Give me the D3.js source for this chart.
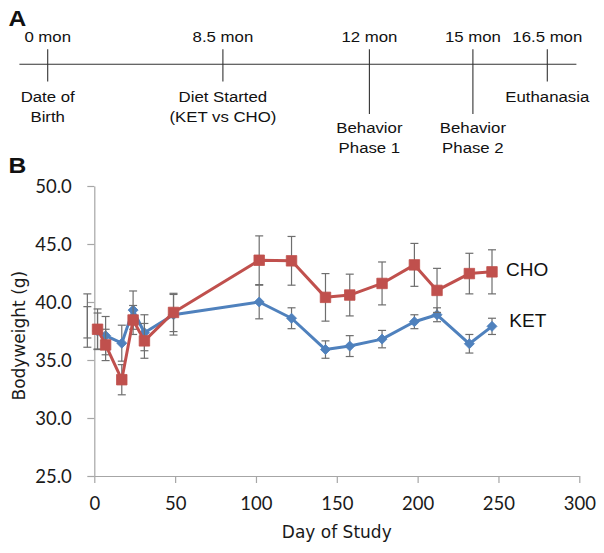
<!DOCTYPE html>
<html>
<head>
<meta charset="utf-8">
<script src="https://cdn.jsdelivr.net/npm/d3@7/dist/d3.min.js"></script>
<style>
  body { margin: 0; background: #fff; }
  svg { display: block; }
</style>
</head>
<body>
<svg width="604" height="553"></svg>
<script>

// ---- panel A: study timeline ----
var milestoneMonths = [0, 8.5, 12, 15, 16.5];
var milestoneTop = ["0 mon", "8.5 mon", "12 mon", "15 mon", "16.5 mon"];
var milestoneText = [["Date of", "Birth"], ["Diet Started", "(KET vs CHO)"],
                     ["Behavior", "Phase 1"], ["Behavior", "Phase 2"], ["Euthanasia"]];

// ---- panel B: bodyweight ----
var days = [2, 7, 17, 24, 31, 49, 102, 122, 143, 158, 178, 198, 212, 232, 246];
var ketMean = [37.5, 37.1, 36.45, 39.3, 37.35, 38.9, 40.0, 38.6, 35.9, 36.2, 36.8, 38.3, 38.9, 36.4, 37.9];
var ketErr  = [1.55, 1.65, 1.55, 1.65, 1.55, 1.75, 1.45, 0.9, 0.75, 0.9, 0.75, 0.6, 0.6, 0.8, 0.7];
var choMean = [37.65, 36.3, 33.3, 38.45, 36.65, 39.1, 43.6, 43.55, 40.4, 40.6, 41.6, 43.2, 41.0, 42.45, 42.6];
var choErr  = [1.75, 1.35, 1.3, 1.25, 1.5, 1.65, 2.1, 2.1, 2.05, 1.8, 1.85, 1.85, 1.9, 1.75, 1.9];
// baseline error bars sitting just left of day 0 (no visible markers)
var baseDay = -4.3;
var baseMean = [38.25, 38.4];
var baseErr = [1.35, 2.3];

var xTicks = [0, 50, 100, 150, 200, 250, 300];
var yTicks = [25, 30, 35, 40, 45, 50];

var red = "#c0504d", blue = "#4f81bd", axisGrey = "#a6a6a6", barGrey = "#6e6e6e";

var svg = d3.select("svg");

// text helper: Excel figure text is a little wide, stretch it horizontally
function stretchText(g, x, y, str, sx) {
  return g.append("text")
      .attr("transform", "translate(" + x + "," + y + ") scale(" + sx + ",1)")
      .text(str);
}

// ---------- A ----------
var gA = svg.append("g")
    .attr("font-family", "'Liberation Sans', Arial, sans-serif")
    .attr("fill", "#111");

stretchText(gA, 8.5, 26, "A", 1.12)
    .attr("font-size", 22).attr("font-weight", "bold");

var tx = d3.scaleLinear()
    .domain(milestoneMonths)
    .range([47.7, 222.9, 369.4, 472.9, 547.3]);

var lineY = 64.3;
gA.append("line")
    .attr("x1", 19.4).attr("x2", 576.4)
    .attr("y1", lineY).attr("y2", lineY)
    .attr("stroke", "#333").attr("stroke-width", 1.1);

// phases labelled further down get longer ticks
var lowRow = [false, false, true, true, false];

var ms = gA.selectAll("g.ms")
    .data(milestoneMonths)
    .enter().append("g")
      .attr("class", "ms");

ms.append("line")
    .attr("x1", function(d) { return tx(d); })
    .attr("x2", function(d) { return tx(d); })
    .attr("y1", 49.3)
    .attr("y2", function(d, i) { return lowRow[i] ? 114 : 81.5; })
    .attr("stroke", "#333").attr("stroke-width", 1.1);

ms.each(function(d, i) {
  var g = d3.select(this);
  stretchText(g, tx(d), 41.7, milestoneTop[i], 1.12)
      .attr("font-size", 15).attr("text-anchor", "middle");
  var base = lowRow[i] ? 132.5 : 101.7;
  milestoneText[i].forEach(function(s, k) {
    stretchText(g, tx(d), base + k * 20, s, 1.12)
        .attr("font-size", 15).attr("text-anchor", "middle");
  });
});

// ---------- B ----------
stretchText(svg, 8.5, 173, "B", 1.12)
    .attr("font-family", "'Liberation Sans', Arial, sans-serif")
    .attr("font-size", 22).attr("font-weight", "bold").attr("fill", "#111");

var x = d3.scaleLinear().domain([0, 300]).range([94.3, 579.3]);
var y = d3.scaleLinear().domain([25, 50]).range([476, 186]);

var xAxis = svg.append("g")
    .attr("transform", "translate(0," + y(25) + ")")
    .call(d3.axisBottom(x).tickValues(xTicks).tickSize(7).tickPadding(14).tickSizeOuter(0));

var yAxis = svg.append("g")
    .attr("transform", "translate(" + x(0) + ",0)")
    .call(d3.axisLeft(y).tickValues(yTicks).tickSize(7).tickPadding(15.5)
        .tickSizeOuter(0).tickFormat(d3.format(".1f")));

[xAxis, yAxis].forEach(function(a) {
  a.select(".domain").attr("stroke", axisGrey).attr("stroke-width", 1.2);
  a.selectAll(".tick line").attr("stroke", axisGrey).attr("stroke-width", 1.2);
  a.selectAll(".tick text")
      .attr("font-family", "Lato, 'Open Sans', sans-serif")
      .attr("font-size", 18.5)
      .attr("fill", "#1a1a1a");
});
yAxis.selectAll(".tick text").attr("dy", "0.36em");

svg.append("text")
    .attr("transform", "translate(25," + y(37.1) + ") rotate(-90)")
    .attr("text-anchor", "middle")
    .attr("font-family", "'DejaVu Sans', sans-serif")
    .attr("font-size", 17)
    .attr("fill", "#1a1a1a")
    .text("Bodyweight (g)");

svg.append("text")
    .attr("x", (x(0) + x(300)) / 2)
    .attr("y", 538)
    .attr("text-anchor", "middle")
    .attr("font-family", "'DejaVu Sans', sans-serif")
    .attr("font-size", 17)
    .attr("fill", "#1a1a1a")
    .text("Day of Study");

// error bars
function errorBars(g, xs, means, errs) {
  var cap = 4;
  var eb = g.selectAll("g.eb")
      .data(means)
      .enter().append("g")
        .attr("class", "eb")
        .attr("stroke", barGrey)
        .attr("stroke-width", 1.2);
  eb.append("line")
      .attr("x1", function(d, i) { return x(xs[i]); })
      .attr("x2", function(d, i) { return x(xs[i]); })
      .attr("y1", function(d, i) { return y(d + errs[i]); })
      .attr("y2", function(d, i) { return y(d - errs[i]); });
  [1, -1].forEach(function(s) {
    eb.append("line")
        .attr("x1", function(d, i) { return x(xs[i]) - cap; })
        .attr("x2", function(d, i) { return x(xs[i]) + cap; })
        .attr("y1", function(d, i) { return y(d + s * errs[i]); })
        .attr("y2", function(d, i) { return y(d + s * errs[i]); });
  });
}

errorBars(svg.append("g"), [baseDay, baseDay], baseMean, baseErr);

function series(means, errs, color, symbol, size, rot) {
  var g = svg.append("g");
  errorBars(g, days, means, errs);
  var line = d3.line()
      .x(function(d, i) { return x(days[i]); })
      .y(function(d) { return y(d); });
  g.append("path")
      .datum(means)
      .attr("d", line)
      .attr("fill", "none")
      .attr("stroke", color)
      .attr("stroke-width", 3)
      .attr("stroke-linejoin", "round");
  g.selectAll("path.mk")
      .data(means)
      .enter().append("path")
        .attr("class", "mk")
        .attr("d", d3.symbol().type(symbol).size(size))
        .attr("transform", function(d, i) {
          return "translate(" + x(days[i]) + "," + y(d) + ") rotate(" + rot + ")";
        })
        .attr("fill", color)
        .attr("stroke", color)
        .attr("stroke-width", 0.8);
}

series(ketMean, ketErr, blue, d3.symbolSquare, 50, 45);
series(choMean, choErr, red, d3.symbolSquare, 110, 0);

// series names
svg.append("text")
    .attr("x", 506).attr("y", 275.7)
    .attr("font-family", "'Liberation Sans', Arial, sans-serif")
    .attr("font-size", 19)
    .attr("fill", "#111")
    .text("CHO");
svg.append("text")
    .attr("x", 509.3).attr("y", 327.3)
    .attr("font-family", "'Liberation Sans', Arial, sans-serif")
    .attr("font-size", 19)
    .attr("fill", "#111")
    .text("KET");

</script>
</body>
</html>
